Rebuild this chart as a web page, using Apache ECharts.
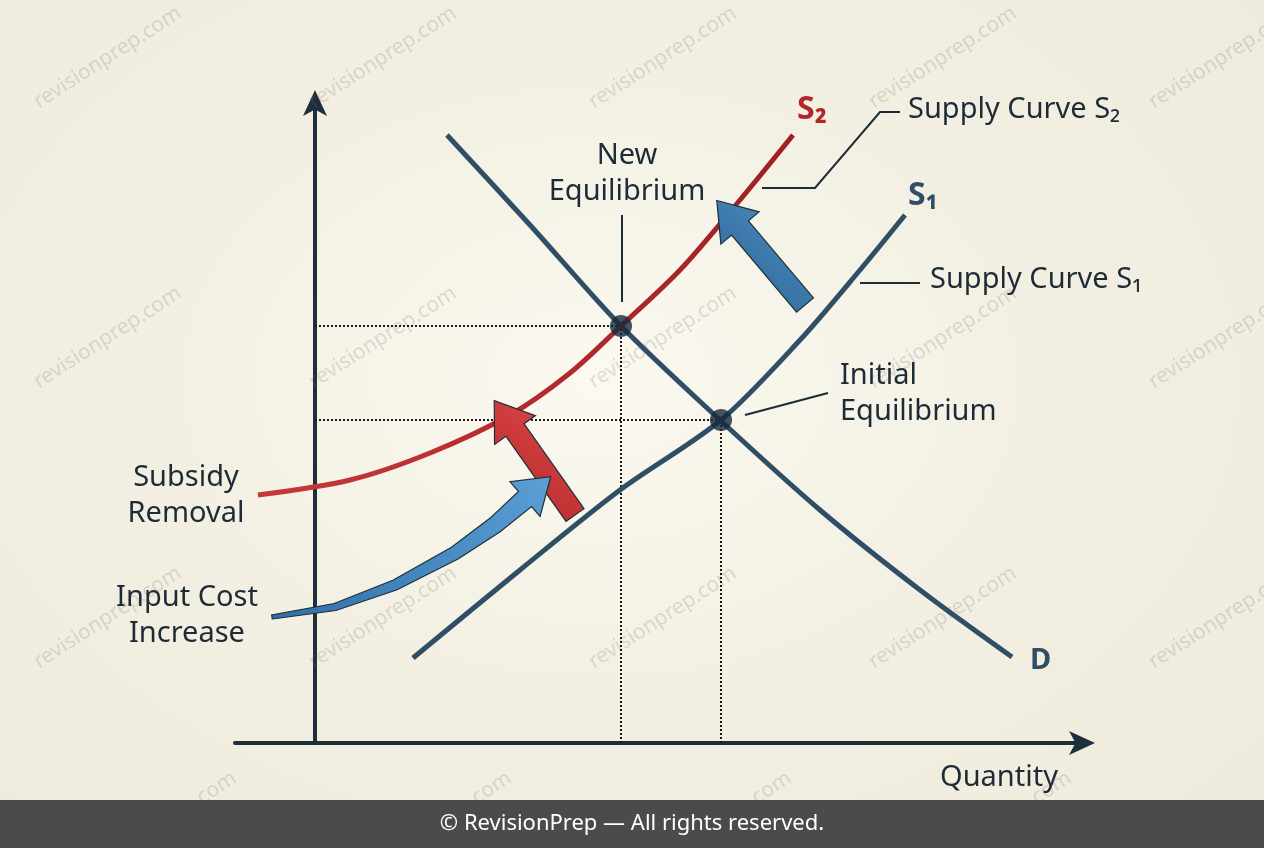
<!DOCTYPE html>
<html><head><meta charset="utf-8">
<script src="https://cdn.jsdelivr.net/npm/echarts@6/dist/echarts.min.js"></script>
<style>html,body{margin:0;padding:0;}#c{width:1264px;height:848px;background:radial-gradient(ellipse at 600px 380px,#fbf9f0 0%,#f3f0e3 45%,#eeeadb 100%);}</style>
</head><body><div id="c"></div>
<script>
// data units: x = quantity, y = price
const demand = [[132,608],[215,518],[305,418],[405,323],[505,233],[605,153],[697,86]];
const supply1 = [[98,85],[205,173],[305,253],[406,323],[485,403],[545,473],[590,528]];
const supply2 = [[-57,248],[35,263],[115,290],[195,328],[255,370],[306,417],[365,473],[425,543],[478,608]];
const newEq = [306,417];
const initEq = [406,323];
const arrowRed = [[260,228],[200,313]];
const arrowBlueUp = [[490,438],[425,515]];
const arrowBlueCurve = [[-43,126],[20,136],[80,158],[140,190],[180,218],[210,244]];

const chart = echarts.init(document.getElementById('c'));
const dark = '#2f4f66', red = '#b3272b', ink = '#1d2b36';
const dot = {type:'dotted', width:2, color:'#1a1a1a'};
chart.setOption({
  animation:false,
  grid:{left:235, top:100, width:850, height:643},
  xAxis:{type:'value', min:-80, max:770, splitLine:{show:false}, axisTick:{show:false}, axisLabel:{show:false},
    axisLine:{lineStyle:{color:'#1e2f3c', width:4}, symbol:['none','arrow'], symbolSize:[18,26], symbolOffset:[0,10]}},
  yAxis:{type:'value', min:0, max:643, splitLine:{show:false}, axisTick:{show:false}, axisLabel:{show:false},
    axisLine:{onZero:true, lineStyle:{color:'#1e2f3c', width:4}, symbol:['none','arrow'], symbolSize:[18,26], symbolOffset:[0,10]}},
  series:[
    {type:'line', data:[[0,newEq[1]],newEq], symbol:'none', lineStyle:dot},
    {type:'line', data:[[0,initEq[1]],initEq], symbol:'none', lineStyle:dot},
    {type:'line', data:[[newEq[0],0],newEq], symbol:'none', lineStyle:dot},
    {type:'line', data:[[initEq[0],0],initEq], symbol:'none', lineStyle:dot},
    {type:'line', data:demand, smooth:0.3, symbol:'none', lineStyle:{color:dark, width:5}},
    {type:'line', data:supply1, smooth:0.3, symbol:'none', lineStyle:{color:dark, width:5}},
    {type:'line', data:supply2, smooth:0.3, symbol:'none', lineStyle:{width:5,
      color:{type:'linear',x:0,y:0,x2:1,y2:0,colorStops:[{offset:0,color:'#c8383a'},{offset:1,color:'#9e1f24'}]}}},
    {type:'scatter', data:[newEq, initEq], symbolSize:22, z:5, itemStyle:{color:'#15293a'}}
  ]
});

function fatArrow(pts, w0, w1, hw, hl){
  const P = pts.map(p=>chart.convertToPixel({gridIndex:0}, p));
  const n = P.length, L=[], R=[];
  for(let i=0;i<n;i++){
    const a = P[Math.max(0,i-1)], b = P[Math.min(n-1,i+1)];
    let dx=b[0]-a[0], dy=b[1]-a[1]; const len=Math.hypot(dx,dy); dx/=len; dy/=len;
    const w = (w0 + (w1-w0)*i/(n-1))/2;
    L.push([P[i][0]-dy*w, P[i][1]+dx*w]); R.push([P[i][0]+dy*w, P[i][1]-dx*w]);
  }
  const a=P[n-2], b=P[n-1]; let dx=b[0]-a[0], dy=b[1]-a[1]; const len=Math.hypot(dx,dy); dx/=len; dy/=len;
  const tip=[b[0]+dx*hl, b[1]+dy*hl];
  const hL=[b[0]-dy*hw/2, b[1]+dx*hw/2], hR=[b[0]+dy*hw/2, b[1]-dx*hw/2];
  return L.concat([hL, tip, hR]).concat(R.reverse());
}
function arrowEl(pts, w0, w1, hw, hl, c1, c2){
  return {type:'polygon', z:10, shape:{points:fatArrow(pts,w0,w1,hw,hl), smooth:0}, 
    style:{fill:{type:'linear',x:0,y:1,x2:1,y2:0,colorStops:[{offset:0,color:c1},{offset:1,color:c2}]}, stroke:'#1e2f3c', lineWidth:1.2}};
}
const txt = (x,y,t,o)=>Object.assign({type:'text', z:20, x, y, style:Object.assign({text:t, fontFamily:'Noto Sans', fontSize:29, fill:ink, lineHeight:36}, o||{})});
const ln = (pts)=>({type:'polyline', z:15, shape:{points:pts}, style:{stroke:ink, lineWidth:2, fill:null}});

const marks = [];
const wmPos = [[30,95],[305,95],[585,95],[865,95],[1145,95],[30,375],[305,375],[585,375],[865,375],[1145,375],[30,655],[305,655],[585,655],[865,655],[1145,655],[85,860],[360,860],[640,860],[920,860],[1200,860]];
wmPos.forEach(p=>marks.push({type:'text', z:1, x:p[0], y:p[1], rotation:Math.PI/5.5,
  style:{text:'revisionprep.com', fontFamily:'Noto Sans', fontSize:21, fill:'rgba(120,120,110,0.22)'}}));

chart.setOption({graphic:marks.concat([
  arrowEl(arrowRed, 22, 22, 50, 36, '#b3272b', '#e04a48'),
  arrowEl(arrowBlueUp, 22, 22, 50, 36, '#2b5f8c', '#4f93c9'),
  arrowEl(arrowBlueCurve, 4, 20, 46, 34, '#2f6fa8', '#5b9fd6'),
  txt(797,92,'S₂',{fill:red, fontWeight:'bold', fontSize:32}),
  txt(908,178,'S₁',{fill:dark, fontWeight:'bold', fontSize:32}),
  txt(1030,643,'D',{fill:dark, fontWeight:'bold', fontSize:29}),
  txt(908,92,'Supply Curve S₂'),
  txt(930,262,'Supply Curve S₁'),
  ln([[762,188],[815,188],[880,112],[900,112]]),
  ln([[860,283],[920,283]]),
  txt(627,138,'New\nEquilibrium',{align:'center'}),
  ln([[622,215],[622,302]]),
  txt(840,358,'Initial\nEquilibrium'),
  ln([[745,415],[828,393]]),
  txt(186,460,'Subsidy\nRemoval',{align:'center'}),
  txt(187,580,'Input Cost\nIncrease',{align:'center'}),
  txt(940,760,'Quantity'),
  {type:'rect', z:30, shape:{x:0,y:800,width:1264,height:48}, style:{fill:'#4b4b4b'}},
  {type:'text', z:31, x:632, y:824, style:{text:'© RevisionPrep — All rights reserved.', fontFamily:'Noto Sans', fontSize:22, fill:'#ffffff', align:'center', verticalAlign:'middle'}}
])});
</script></body></html>
